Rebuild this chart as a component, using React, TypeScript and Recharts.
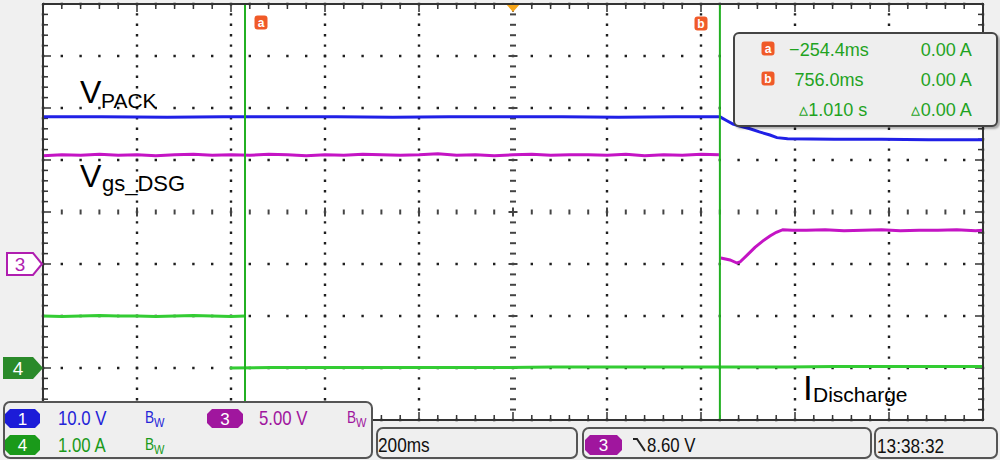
import React from 'react';
import { LineChart, Line, XAxis, YAxis, ReferenceLine, ReferenceDot, CartesianGrid } from 'recharts';

// ---- time axis (ms) : 200 ms/div, 10 divisions ----
const T_START = -684.2;
const T_END = 1315.8;
const MS_PER_DIV = 200;
const X_DIVS = 10;
const Y_DIVS = 8; // vertical screen divisions, 0 = centre

const cursorA = -254.4;
const cursorB = 756.0;
const triggerT = 315.8;

// ---- Channel 1 : V_PACK (screen divisions) ----
const vpackT = [-684.2, -560, -420, -300, -180, -60, 60, 180, 300, 420, 540, 660, 756.2, 770, 783.9, 800, 820, 840, 862.5, 877.4, 900, 1000, 1100, 1200, 1315.8];
const vpackV = [1.83, 1.83, 1.82, 1.83, 1.83, 1.83, 1.82, 1.83, 1.83, 1.83, 1.82, 1.83, 1.83, 1.76, 1.69, 1.65, 1.6, 1.54, 1.48, 1.43, 1.41, 1.4, 1.4, 1.39, 1.39];

// ---- Channel 3 : Vgs_DSG (screen divisions) ----
const vgsPreT = [-684, -644, -604, -564, -524, -484, -444, -404, -364, -324, -284, -244, -204, -164, -124, -84, -44, -4, 36, 76, 116, 156, 196, 236, 276, 316, 356, 396, 436, 476, 516, 556, 596, 636, 676, 716, 754];
const vgsPreV = [1.08, 1.1, 1.09, 1.11, 1.09, 1.1, 1.08, 1.1, 1.11, 1.09, 1.1, 1.09, 1.11, 1.1, 1.08, 1.1, 1.09, 1.11, 1.1, 1.09, 1.1, 1.12, 1.09, 1.1, 1.08, 1.1, 1.11, 1.09, 1.1, 1.1, 1.09, 1.11, 1.08, 1.1, 1.09, 1.11, 1.1];
const vgsPostT = [758, 777.5, 792.3, 798.7, 815, 830.6, 847, 862.5, 876, 890, 910, 940, 980, 1020, 1060, 1100, 1140, 1180, 1220, 1260, 1300, 1315.8];
const vgsPostV = [-0.885, -0.923, -0.981, -0.962, -0.82, -0.68, -0.56, -0.46, -0.39, -0.34, -0.35, -0.35, -0.34, -0.36, -0.35, -0.34, -0.36, -0.35, -0.35, -0.34, -0.36, -0.35];

// ---- Channel 4 : I_Discharge (screen divisions) ----
const iPreT = [-684.2, -644, -604, -564, -524, -484, -444, -404, -364, -324, -284, -254.4];
const iPreV = [-2.0, -2.01, -2.0, -1.99, -2.0, -2.0, -2.01, -2.0, -1.99, -2.0, -2.01, -2.0];
const iPostT = [-286.3, -200, -100, 0, 100, 200, 300, 400, 500, 600, 700, 800, 900, 1000, 1100, 1200, 1315.8];
const iPostV = [-3.0, -2.99, -2.99, -2.99, -2.99, -2.99, -2.99, -2.98, -2.98, -2.98, -2.98, -2.98, -2.98, -2.97, -2.97, -2.97, -2.97];

const rows = (ts: number[], vs: number[]) => ts.map((t, i) => ({ t, v: vs[i] }));
const vpackData = rows(vpackT, vpackV);
const vgsPre = rows(vgsPreT, vgsPreV);
const vgsPost = rows(vgsPostT, vgsPostV);
const iPre = rows(iPreT, iPreV);
const iPost = rows(iPostT, iPostV);

// grid positions
const majorT = Array.from({ length: X_DIVS + 1 }, (_, i) => T_START + i * MS_PER_DIV);
const majorV = Array.from({ length: Y_DIVS + 1 }, (_, i) => -Y_DIVS / 2 + i);
const minorT = Array.from({ length: X_DIVS * 5 + 1 }, (_, i) => T_START + i * MS_PER_DIV / 5);
const minorV = Array.from({ length: Y_DIVS * 5 + 1 }, (_, i) => -Y_DIVS / 2 + i * 0.2);
const gridT = majorT.slice(1, -1).filter((t) => Math.abs(t - triggerT) > 1);
const gridV = majorV.slice(1, -1).filter((v) => v !== 0);

const MS_PX = MS_PER_DIV / 94;
const DIV_PX = 1 / 52;

const GRID = '#1e1e1e';
const BLUE = '#2020e6';
const MAG = '#c414c4';
const GRN = '#33cc33';
const CUR = '#22b022';
const ORANGE = '#f05a28';

const FONT = '"Liberation Sans", Arial, sans-serif';

const Txt = ({ x, y, size, color = '#000', children, align = 'left', sx = 1 }: any) => {
  const base: any = {
    position: 'absolute',
    top: y - 0.8465 * size,
    height: size,
    lineHeight: `${size}px`,
    fontSize: size,
    color,
    whiteSpace: 'nowrap',
    fontFamily: FONT,
  };
  if (align === 'left') {
    base.left = x;
    base.transformOrigin = 'left center';
    base.transform = `scaleX(${sx})`;
  } else if (align === 'right') {
    base.right = 1000 - x;
    base.transformOrigin = 'right center';
    base.transform = `scaleX(${sx})`;
  } else {
    base.left = x;
    base.transform = `translateX(-50%) scaleX(${sx})`;
  }
  return <div style={base}>{children}</div>;
};

const Pill = ({ x, y, w, h, fill, text }: any) => (
  <svg style={{ position: 'absolute', left: x, top: y }} width={w} height={h}>
    <polygon
      points={`5,0 ${w - 5},0 ${w},5 ${w},${h - 5} ${w - 5},${h} 5,${h} 0,${h - 5} 0,5`}
      fill={fill}
    />
    <text x={w / 2} y={h / 2 + 6} textAnchor="middle" fill="#fff" fontSize={17} fontFamily={FONT}>
      {text}
    </text>
  </svg>
);

const CursorTag = ({ x, y, letter }: any) => (
  <svg style={{ position: 'absolute', left: x, top: y }} width={14} height={15}>
    <rect x={0.5} y={0.5} width={13} height={14} rx={3} fill={ORANGE} />
    <text x={7} y={11.5} textAnchor="middle" fill="#fff" fontSize={12} fontWeight="bold" fontFamily={FONT}>
      {letter}
    </text>
  </svg>
);

const Box = ({ x, y, w, h }: any) => (
  <div
    style={{
      position: 'absolute',
      left: x,
      top: y,
      width: w,
      height: h,
      boxSizing: 'border-box',
      border: '2px solid #555',
      borderRadius: 7,
      background: '#efefef',
    }}
  />
);

const BW = ({ x, y, color }: any) => (
  <div style={{ position: 'absolute', left: x, top: y - 15, color, fontFamily: FONT, fontSize: 16, lineHeight: '16px', whiteSpace: 'nowrap', transform: 'scaleX(0.85)', transformOrigin: 'left' }}>
    B<span style={{ fontSize: 13, position: 'relative', top: 4 }}>W</span>
  </div>
);

export default function App() {
  const seg = (a: [number, number], b: [number, number], k: string, w = 1.5, c = '#333') => (
    <ReferenceLine
      key={k}
      segment={[{ x: a[0], y: a[1] }, { x: b[0], y: b[1] }]}
      stroke={c}
      strokeWidth={w}
      ifOverflow="visible"
    />
  );

  const marks: any[] = [];
  minorT.forEach((t, i) => {
    const major = i % 5 === 0;
    const len = (major ? 8 : 5) * DIV_PX;
    marks.push(seg([t, 4], [t, 4 - len], `tt${i}`));
    marks.push(seg([t, -4], [t, -4 + len], `tb${i}`));
    if (i > 0 && i < minorT.length - 1) {
      const h = (major ? 4.5 : 2.5) * DIV_PX;
      marks.push(seg([t, h], [t, -h], `tc${i}`, 2, '#444'));
    }
  });
  minorV.forEach((v, i) => {
    const major = i % 5 === 0;
    const len = (major ? 8 : 5) * MS_PX;
    marks.push(seg([T_START, v], [T_START + len, v], `tl${i}`));
    marks.push(seg([T_END, v], [T_END - len, v], `tr${i}`));
    if (i > 0 && i < minorV.length - 1) {
      const h = (major ? 4.5 : 3) * MS_PX;
      marks.push(seg([triggerT - h, v], [triggerT + h, v], `vc${i}`, 2, '#444'));
    }
  });

  return (
    <div
      style={{
        position: 'fixed',
        left: 0,
        top: 0,
        width: 1000,
        height: 460,
        background: '#f0f0f0',
        overflow: 'hidden',
        fontFamily: FONT,
      }}
    >
      <div
        style={{
          position: 'absolute',
          left: 42,
          top: 3,
          width: 942,
          height: 418,
          background: '#fff',
        }}
      />
      <div style={{ position: 'absolute', left: 0, top: 0 }}>
        <LineChart width={1000} height={460} margin={{ top: 4, right: 17, bottom: 40, left: 43 }}>
          <XAxis type="number" dataKey="t" domain={[T_START, T_END]} ticks={gridT} interval={0} hide allowDataOverflow />
          <YAxis type="number" dataKey="v" domain={[-4, 4]} ticks={gridV} interval={0} hide allowDataOverflow />
          <CartesianGrid horizontal={false} vertical stroke={GRID} strokeWidth={2.4} strokeDasharray="2.4 8" strokeDashoffset={1.2} />
          <CartesianGrid horizontal vertical={false} stroke={GRID} strokeWidth={2.4} strokeDasharray="2.4 16.4" strokeDashoffset={1.2} />
          {marks}
          <Line data={iPre} dataKey="v" stroke={GRN} strokeWidth={3} dot={false} isAnimationActive={false} />
          <Line data={iPost} dataKey="v" stroke={GRN} strokeWidth={3} dot={false} isAnimationActive={false} />
          <Line data={vpackData} dataKey="v" stroke={BLUE} strokeWidth={3} dot={false} isAnimationActive={false} />
          <Line data={vgsPre} dataKey="v" stroke={MAG} strokeWidth={3} dot={false} isAnimationActive={false} />
          <Line data={vgsPost} dataKey="v" stroke={MAG} strokeWidth={3} dot={false} isAnimationActive={false} />
          <ReferenceLine x={cursorA} stroke={CUR} strokeWidth={2} />
          <ReferenceLine x={cursorB} stroke={CUR} strokeWidth={2} />
          <ReferenceDot
            x={triggerT}
            y={4}
            ifOverflow="visible"
            shape={(p: any) => (
              <polygon points={`${p.cx - 7},${p.cy} ${p.cx + 7},${p.cy} ${p.cx},${p.cy + 8}`} fill="#f5a418" />
            )}
          />
        </LineChart>
      </div>
      {/* plot frame */}
      <div
        style={{
          position: 'absolute',
          left: 42,
          top: 3,
          width: 942,
          height: 418,
          boxSizing: 'border-box',
          border: '2px solid #333',
          pointerEvents: 'none',
        }}
      />

      {/* cursor tags */}
      <CursorTag x={254} y={15} letter="a" />
      <CursorTag x={694} y={16} letter="b" />

      {/* channel ground markers */}
      <svg style={{ position: 'absolute', left: 6, top: 252 }} width={38} height={25}>
        <polygon points="1,1 27,1 36,12 27,23 1,23" fill="#fff" stroke="#b01eb0" strokeWidth={2} />
        <text x={14} y={19} textAnchor="middle" fill="#b01eb0" fontSize={19} fontFamily={FONT}>3</text>
      </svg>
      <svg style={{ position: 'absolute', left: 3, top: 357 }} width={40} height={22}>
        <polygon points="0,0 30,0 40,11 30,22 0,22" fill="#2a8a2a" />
        <text x={15} y={18} textAnchor="middle" fill="#fff" fontSize={19} fontFamily={FONT}>4</text>
      </svg>

      {/* trace labels */}
      <Txt x={80} y={103} size={32}>V</Txt>
      <Txt x={101} y={108} size={21}>PACK</Txt>
      <Txt x={80} y={187} size={32}>V</Txt>
      <Txt x={102} y={192} size={22}>gs_DSG</Txt>
      <Txt x={803} y={400} size={35}>I</Txt>
      <Txt x={813} y={402} size={21}>Discharge</Txt>

      {/* cursor readout */}
      <div
        style={{
          position: 'absolute',
          left: 733,
          top: 32,
          width: 265,
          height: 95,
          boxSizing: 'border-box',
          border: '2px solid #444',
          borderRadius: 6,
          background: '#eeeeee',
          boxShadow: '2px 2px 2px rgba(0,0,0,0.3)',
        }}
      />
      <CursorTag x={761} y={41} letter="a" />
      <CursorTag x={761} y={71} letter="b" />
      <Txt x={829} y={56} size={19} color="#1fa31f" align="center" sx={0.95}>−254.4ms</Txt>
      <Txt x={829} y={86} size={19} color="#1fa31f" align="center" sx={0.95}>756.0ms</Txt>
      <Txt x={833} y={116} size={19} color="#1fa31f" align="center" sx={0.95}>▵1.010 s</Txt>
      <Txt x={972} y={56} size={19} color="#1fa31f" align="right" sx={0.95}>0.00 A</Txt>
      <Txt x={972} y={86} size={19} color="#1fa31f" align="right" sx={0.95}>0.00 A</Txt>
      <Txt x={972} y={116} size={19} color="#1fa31f" align="right" sx={0.95}>▵0.00 A</Txt>

      {/* status bar */}
      <Box x={3} y={401} w={370} h={58} />
      <Box x={376} y={427} w={202} h={32} />
      <Box x={582} y={427} w={290} h={32} />
      <Box x={874} y={427} w={124} h={32} />

      <Pill x={5} y={409} w={35} h={19} fill="#1c1cd8" text="1" />
      <Txt x={58} y={425} size={21} color="#2424d8" sx={0.8}>10.0 V</Txt>
      <BW x={145} y={425} color="#2424d8" />
      <Pill x={207} y={409} w={36} h={19} fill="#a0169e" text="3" />
      <Txt x={259} y={425} size={21} color="#a0169e" sx={0.8}>5.00 V</Txt>
      <BW x={347} y={425} color="#a0169e" />

      <Pill x={5} y={435} w={35} h={20} fill="#1a9a1a" text="4" />
      <Txt x={58} y={452} size={21} color="#1a9a1a" sx={0.8}>1.00 A</Txt>
      <BW x={145} y={452} color="#1a9a1a" />

      <Txt x={378} y={452} size={21} color="#111" sx={0.82}>200ms</Txt>

      <Pill x={585} y={435} w={37} h={20} fill="#a0169e" text="3" />
      <svg style={{ position: 'absolute', left: 633, top: 437 }} width={14} height={16}>
        <polyline points="0,2 4,2 12,14" fill="none" stroke="#222" strokeWidth={2} />
      </svg>
      <Txt x={647} y={452} size={21} color="#111" sx={0.8}>8.60 V</Txt>

      <Txt x={877} y={453} size={21} color="#111" sx={0.82}>13:38:32</Txt>
    </div>
  );
}
